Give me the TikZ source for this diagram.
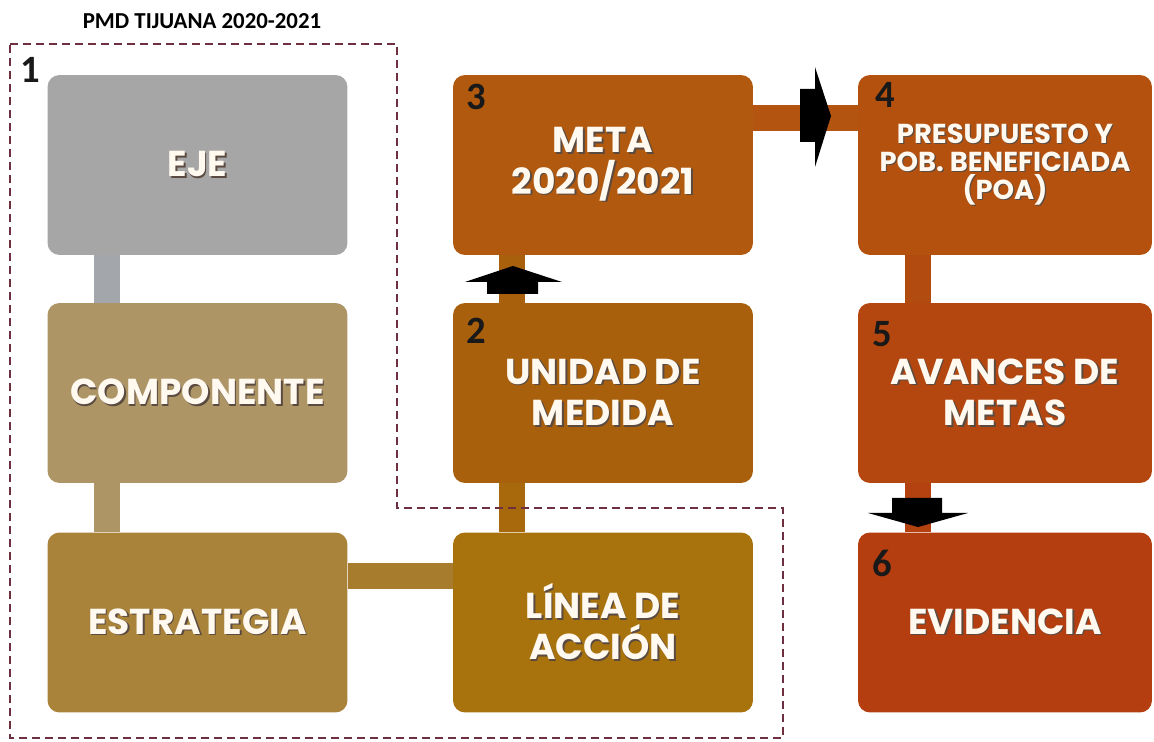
\documentclass[tikz,border=0pt]{standalone}
\usepackage{fontspec}
\usetikzlibrary{calc}
\newfontfamily\popfont{Poppins}
\newfontfamily\carlfont{Carlito}
\definecolor{cEje}{HTML}{A6A6A6}
\definecolor{cComp}{HTML}{AE9566}
\definecolor{cEst}{HTML}{A9833A}
\definecolor{cLin}{HTML}{A8720D}
\definecolor{cUni}{HTML}{A8600D}
\definecolor{cMeta}{HTML}{B0590F}
\definecolor{cPre}{HTML}{B5510F}
\definecolor{cAva}{HTML}{B3470F}
\definecolor{cEvi}{HTML}{B53E10}
\definecolor{cBarEje}{HTML}{A3A6AA}
\definecolor{cBarEL}{HTML}{A77C2C}
\definecolor{cBarUL}{HTML}{A8690D}
\definecolor{cBarMP}{HTML}{B35410}
\definecolor{cBarPA}{HTML}{B24B10}
\definecolor{cBarAE}{HTML}{B34210}
\definecolor{dashc}{HTML}{6E3040}
\definecolor{shadowc}{HTML}{5A4A40}
\definecolor{txtc}{HTML}{FFF9F0}
\newcommand\shd[1]{\makebox[0pt][l]{\kern0.04em\raisebox{-0.04em}{\textcolor{shadowc}{#1}}}#1}
\begin{document}
\begin{tikzpicture}[x=0.02cm,y=-0.02cm,
  box/.style={rounded corners=0.24cm, minimum width=6cm, minimum height=3.6cm,
    inner sep=0pt, text=txtc, align=center,
    font=\popfont\bfseries\fontsize{20.5}{23.5}\selectfont},
  rbox/.style={box, minimum width=5.88cm},
  num/.style={font=\carlfont\bfseries\fontsize{22}{24}\selectfont, text=black!90, inner sep=0pt},
  bar/.style={line width=0.52cm},
  outline/.style={draw=dashc, line width=1.2pt, dash pattern=on 0.16cm off 0.1cm},
  arrowfill/.style={fill=black}]
\useasboundingbox (0,0) rectangle (1154,742);

% title
\node[font=\carlfont\bfseries\fontsize{13}{15}\selectfont, inner sep=0pt] (title) at (202,21) {PMD TIJUANA 2020-2021};

% boxes
\node[box, fill=cEje] (eje) at (197.5,165) {\shd{EJE}};
\node[box, fill=cComp] (comp) at (197.5,393) {\shd{COMPONENTE}};
\node[box, fill=cEst] (est) at (197.5,622.5) {\shd{ESTRATEGIA}};
\node[box, fill=cMeta] (meta) at (603,165) {\shd{META}\\\shd{2020/2021}};
\node[box, fill=cUni] (uni) at (603,393) {\shd{UNIDAD DE}\\\shd{MEDIDA}};
\node[box, fill=cLin] (lin) at (603,622.5) {\shd{LÍNEA DE}\\\shd{ACCIÓN}};
\node[rbox, fill=cPre, font=\popfont\bfseries\fontsize{15.6}{15.8}\selectfont] (pre) at (1005,165)
  {\shd{PRESUPUESTO Y}\\\shd{POB. BENEFICIADA}\\\shd{(POA)}};
\node[rbox, fill=cAva] (ava) at (1005,393) {\shd{AVANCES DE}\\\shd{METAS}};
\node[rbox, fill=cEvi] (evi) at (1005,622.5) {\shd{EVIDENCIA}};

% connector bars
\draw[bar, cBarEje] ($(eje.south west)+(60,0)$) -- ($(comp.north west)+(60,0)$);
\draw[bar, cComp] ($(comp.south west)+(60,0)$) -- ($(est.north west)+(60,0)$);
\draw[bar, cBarEL] ($(est.north east)+(0,43.5)$) -- ($(lin.north west)+(0,43.5)$);
\draw[bar, cBarUL] ($(lin.north west)+(59.5,0)$) -- ($(uni.south west)+(59.5,0)$);
\draw[bar, cUni] ($(uni.north west)+(59.5,0)$) -- ($(meta.south west)+(59.5,0)$);
\draw[bar, cBarMP] ($(meta.north east)+(0,43.5)$) -- ($(pre.north west)+(0,43.5)$);
\draw[bar, cBarPA] ($(pre.south west)+(60.5,0)$) -- ($(ava.north west)+(60.5,0)$);
\draw[bar, cBarAE] ($(ava.south west)+(60.5,0)$) -- ($(evi.north west)+(60.5,0)$);

% black arrow shapes
\fill[arrowfill] (487,294) -- (487,282) -- (465,282) -- (513,266) -- (562,282) -- (538,282) -- (538,294) -- cycle;
\fill[arrowfill] (800,89) -- (815,89) -- (815,67) -- (831,116) -- (815,167) -- (815,142) -- (800,142) -- cycle;
\fill[arrowfill] (892,498) -- (942,498) -- (942,513) -- (968,513) -- (918,527) -- (868,513) -- (892,513) -- cycle;

% numbers
\node[num] (n1) at (30,70) {1};
\node[num] (n3) at (476,97) {3};
\node[num] (n2) at (476,331) {2};
\node[num] (n4) at (885,95) {4};
\node[num] (n5) at (882,334) {5};
\node[num] (n6) at (882,563) {6};

% dashed outline
\draw[outline] (10,44) -- (397,44) -- (397,508) -- (783,508) -- (783,738) -- (10,738) -- cycle;
\end{tikzpicture}
\end{document}
